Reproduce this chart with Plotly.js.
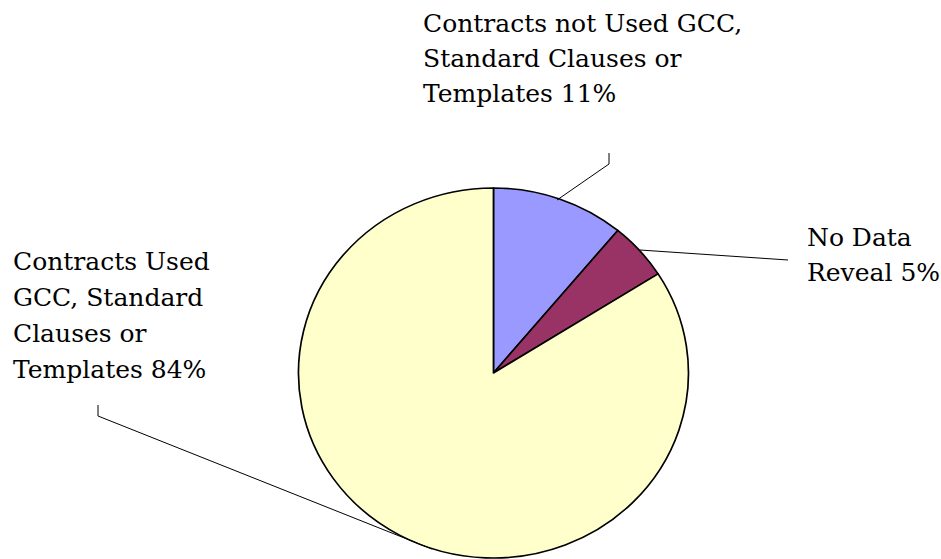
<!DOCTYPE html>
<html>
<head>
<meta charset="utf-8">
<script src="https://cdn.plot.ly/plotly-3.0.1.min.js"></script>
<style>
  html, body { margin: 0; padding: 0; background: #ffffff; }
  #wrap { position: relative; width: 941px; height: 559px; overflow: hidden; }
  #pie { position: absolute; left: 0; top: 0; width: 941px; height: 559px;
         transform: scaleX(1.054); transform-origin: 493.5px 373px; }
  #labels { position: absolute; left: 0; top: 0; width: 941px; height: 559px; }
</style>
</head>
<body>
<div id="wrap">
  <div id="pie"></div>
  <div id="labels"></div>
</div>
<script>
// ---- data ----
const categories = [
  "Contracts not Used GCC, Standard Clauses or Templates",
  "No Data Reveal",
  "Contracts Used GCC, Standard Clauses or Templates"
];
const percentValues = [11, 5, 84];
const sliceColors = ["#9999FF", "#993366", "#FFFFCC"];
const labelLines = [
  ["Contracts not Used GCC,", "Standard Clauses or", "Templates 11%"],
  ["No Data", "Reveal 5%"],
  ["Contracts Used", "GCC, Standard", "Clauses or", "Templates 84%"]
];

const W = 941, H = 559;
const FONT = "DejaVu Serif, serif";
const FSIZE = 25;

// ---- pie ----
Plotly.newPlot("pie", [{
  type: "pie",
  labels: categories,
  values: percentValues,
  sort: false,
  direction: "clockwise",
  rotation: 0,
  textinfo: "none",
  hoverinfo: "none",
  marker: { colors: sliceColors, line: { color: "#000000", width: 1.6 } },
  domain: { x: [0.3277, 0.7211], y: [0.0018, 0.6637] }
}], {
  width: W, height: H,
  margin: { l: 0, r: 0, t: 0, b: 0 },
  showlegend: false,
  paper_bgcolor: "#ffffff",
  plot_bgcolor: "#ffffff"
}, { staticPlot: true, displayModeBar: false });

// ---- labels & leader lines (pixel frame) ----
const labelBoxes = [
  { x: 421, top: 7, step: 35 },
  { x: 805, top: 221, step: 35 },
  { x: 11, top: 245, step: 36 }
];
const annotations = [];
labelLines.forEach(function (lines, i) {
  const b = labelBoxes[i];
  lines.forEach(function (t, k) {
    annotations.push({
      text: t, xref: "x", yref: "y", x: b.x, y: b.top + k * b.step,
      xanchor: "left", yanchor: "top", align: "left", showarrow: false,
      font: { family: FONT, size: FSIZE, color: "#000" }
    });
  });
});

const ax = { visible: false, showgrid: false, zeroline: false, fixedrange: true };
Plotly.newPlot("labels", [], {
  width: W, height: H,
  margin: { l: 0, r: 0, t: 0, b: 0 },
  paper_bgcolor: "rgba(0,0,0,0)",
  plot_bgcolor: "rgba(0,0,0,0)",
  xaxis: Object.assign({ range: [0, W] }, ax),
  yaxis: Object.assign({ range: [H, 0] }, ax),
  showlegend: false,
  annotations: annotations,
  shapes: [
    { type: "path", xref: "x", yref: "y", path: "M557,200 L609,164 L609,153",
      line: { color: "#000", width: 1 } },
    { type: "path", xref: "x", yref: "y", path: "M640,250 L788,260",
      line: { color: "#000", width: 1 } },
    { type: "path", xref: "x", yref: "y", path: "M98,405 L98,416 L432,549",
      line: { color: "#000", width: 1 } }
  ]
}, { staticPlot: true, displayModeBar: false });
</script>
</body>
</html>
